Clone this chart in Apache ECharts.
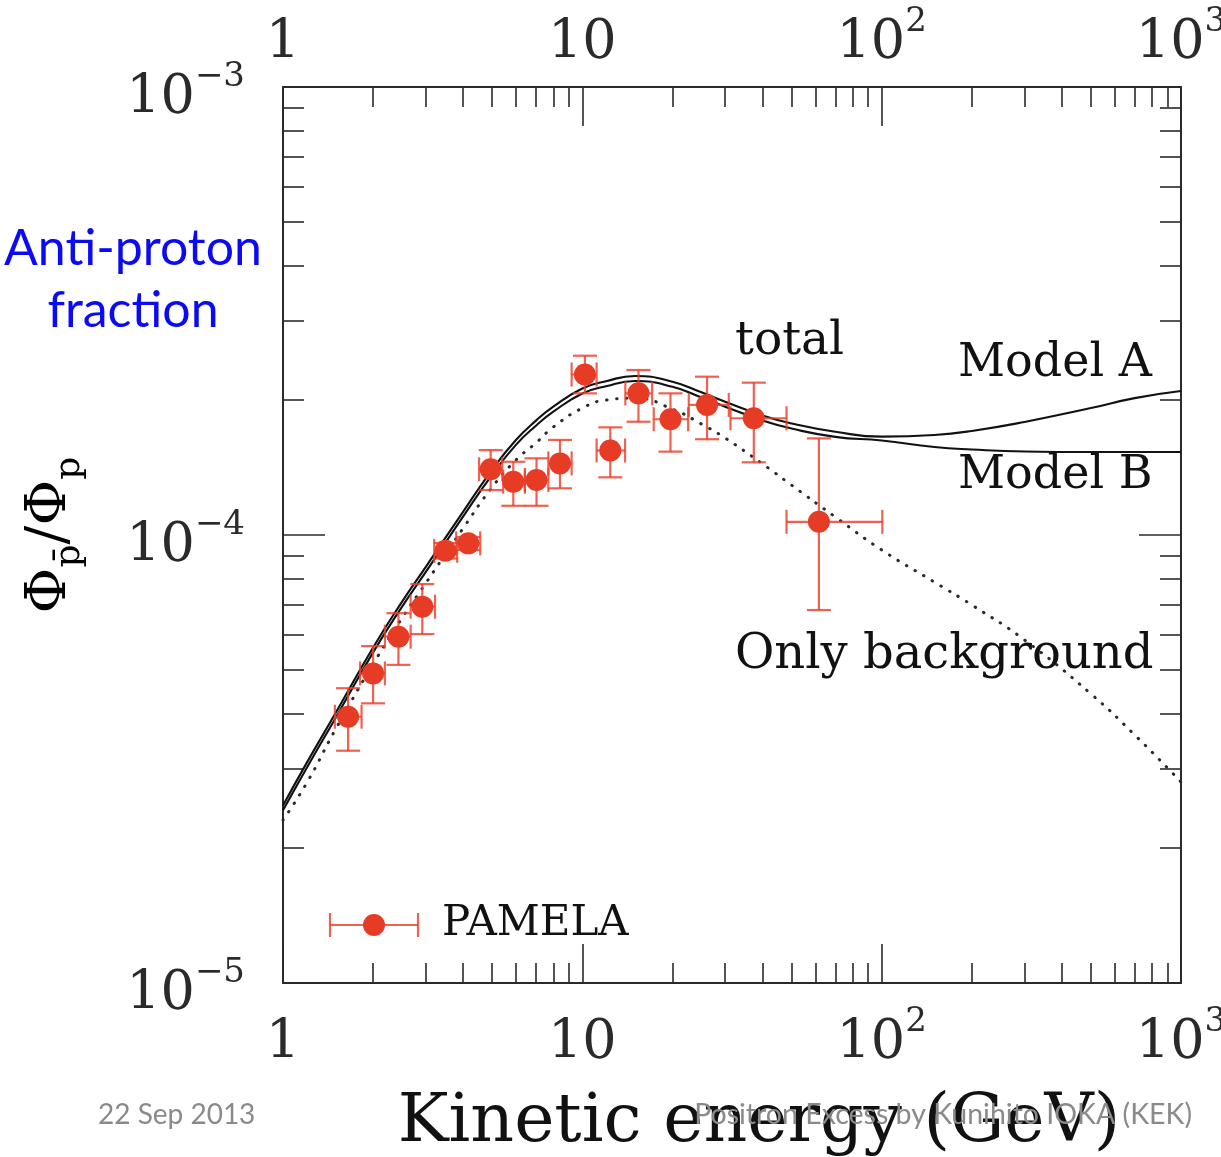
<!DOCTYPE html>
<html><head><meta charset="utf-8">
<script src="https://cdn.jsdelivr.net/npm/echarts@6/dist/echarts.min.js"></script>
<style>html,body{margin:0;padding:0;background:#fff}#c{width:1221px;height:1157px}</style>
</head><body><div id="c"></div>
<script>
// ---- curves (kinetic energy in GeV, antiproton/proton ratio) ----
const energy = [1, 1.2, 1.5, 2, 2.5, 3, 4, 5, 6, 7, 8, 10, 12, 15, 20, 25, 30, 40, 50, 70, 100, 150, 200, 300, 500, 700, 1000];
const modelA = [2.49e-5, 3.10e-5, 4.01e-5, 5.61e-5, 7.10e-5, 8.49e-5, 1.128e-4, 1.400e-4, 1.630e-4, 1.800e-4, 1.935e-4, 2.123e-4, 2.205e-4, 2.264e-4, 2.199e-4, 2.082e-4, 1.984e-4, 1.849e-4, 1.774e-4, 1.700e-4, 1.658e-4, 1.672e-4, 1.707e-4, 1.788e-4, 1.920e-4, 2.021e-4, 2.096e-4];
const modelB = [2.43e-5, 3.02e-5, 3.91e-5, 5.47e-5, 6.92e-5, 8.27e-5, 1.100e-4, 1.364e-4, 1.589e-4, 1.754e-4, 1.885e-4, 2.069e-4, 2.149e-4, 2.206e-4, 2.143e-4, 2.028e-4, 1.934e-4, 1.801e-4, 1.728e-4, 1.656e-4, 1.625e-4, 1.572e-4, 1.552e-4, 1.536e-4, 1.532e-4, 1.532e-4, 1.532e-4];
const background = [2.311e-5, 2.795e-5, 3.69e-5, 5.15e-5, 6.53e-5, 7.81e-5, 1.036e-4, 1.279e-4, 1.470e-4, 1.605e-4, 1.742e-4, 1.920e-4, 2.001e-4, 2.021e-4, 1.910e-4, 1.769e-4, 1.646e-4, 1.441e-4, 1.292e-4, 1.097e-4, 9.26e-5, 7.85e-5, 6.98e-5, 5.83e-5, 4.42e-5, 3.58e-5, 2.81e-5];

// ---- PAMELA data ----
const pamelaE       = [1.65, 2.0, 2.43, 2.92, 3.49, 4.16, 4.94, 5.88, 7.03, 8.42, 10.2, 12.4, 15.4, 19.7, 26.1, 37.4, 61.7];
const pamelaRatio   = [3.93e-5, 4.91e-5, 5.93e-5, 6.92e-5, 9.22e-5, 9.58e-5, 1.402e-4, 1.315e-4, 1.327e-4, 1.445e-4, 2.282e-4, 1.544e-4, 2.071e-4, 1.813e-4, 1.951e-4, 1.822e-4, 1.07e-4];
const pamelaElo     = [1.49, 1.81, 2.19, 2.67, 3.20, 3.79, 4.52, 5.44, 6.43, 7.70, 9.21, 11.16, 13.92, 17.32, 22.68, 31.26, 48.1];
const pamelaEhi     = [1.83, 2.19, 2.67, 3.22, 3.82, 4.56, 5.40, 6.43, 7.70, 9.21, 11.16, 13.89, 17.11, 22.57, 30.85, 48.1, 100.5];
const pamelaRatioLo = [3.30e-5, 4.21e-5, 5.13e-5, 6.01e-5, 8.86e-5, 9.26e-5, 1.26e-4, 1.162e-4, 1.162e-4, 1.271e-4, 2.071e-4, 1.345e-4, 1.79e-4, 1.535e-4, 1.636e-4, 1.453e-4, 6.80e-5];
const pamelaRatioHi = [4.55e-5, 5.65e-5, 6.69e-5, 7.77e-5, 9.60e-5, 9.90e-5, 1.547e-4, 1.457e-4, 1.483e-4, 1.63e-4, 2.513e-4, 1.739e-4, 2.335e-4, 2.071e-4, 2.256e-4, 2.188e-4, 1.643e-4];

// ---- ticks ----
const xMajorTicks = [1, 10, 100, 1000];
const xTickLabels = [['1', ''], ['10', ''], ['10', '2'], ['10', '3']];
const xMinorTicks = [2, 3, 4, 5, 6, 7, 8, 9, 20, 30, 40, 50, 60, 70, 80, 90, 200, 300, 400, 500, 600, 700, 800, 900];
const yMajorTicks = [1e-5, 1e-4, 1e-3];
const yTickLabels = [['10', '\u22125'], ['10', '\u22124'], ['10', '\u22123']];
const yMinorTicks = [2e-5, 3e-5, 4e-5, 5e-5, 6e-5, 7e-5, 8e-5, 9e-5, 2e-4, 3e-4, 4e-4, 5e-4, 6e-4, 7e-4, 8e-4, 9e-4];

const SERIF = '"DejaVu Serif", "Liberation Serif", serif';
const INK = '#2a2a2a';
const TXT = '#111111';
const RED = '#e63b25';
const BAR = 'rgba(236,62,42,0.82)';

function near(a, b) { return Math.abs(Math.log10(a) - Math.log10(b)) < 1e-6; }
function fmt(ticks, labels) {
  return function (v) {
    for (let i = 0; i < ticks.length; i++) {
      if (near(v, ticks[i])) {
        const l = labels[i];
        return '{b|' + l[0] + '}' + (l[1] ? '{s|' + l[1] + '}' : '');
      }
    }
    return '';
  };
}
const labelRich = {
  b: { fontFamily: SERIF, fontSize: 54, color: INK, padding: [12, 0, 0, 0], verticalAlign: 'top', lineHeight: 54 },
  s: { fontFamily: SERIF, fontSize: 34, color: INK, verticalAlign: 'top', lineHeight: 34 }
};

function majorX(pos) {
  return {
    type: 'log', logBase: 10, min: 1, max: 1000, position: pos, gridIndex: 0,
    axisLine: { show: true, lineStyle: { color: INK, width: 2 } },
    axisTick: { show: true, inside: true, length: 39, customValues: xMajorTicks, lineStyle: { color: INK, width: 1.6 } },
    axisLabel: { show: true, customValues: xMajorTicks, formatter: fmt(xMajorTicks, xTickLabels), rich: labelRich, margin: pos === 'bottom' ? 22 : 28 },
    splitLine: { show: false }, minorTick: { show: false }
  };
}
function minorX(pos) {
  return {
    type: 'log', logBase: 10, min: 1, max: 1000, position: pos, gridIndex: 0,
    axisLine: { show: false },
    axisTick: { show: true, inside: true, length: 20, customValues: xMinorTicks, lineStyle: { color: INK, width: 1.6 } },
    axisLabel: { show: false }, splitLine: { show: false }
  };
}
function majorY(pos) {
  return {
    type: 'log', logBase: 10, min: 1e-5, max: 1e-3, position: pos, gridIndex: 0,
    axisLine: { show: true, lineStyle: { color: INK, width: 2 } },
    axisTick: { show: true, inside: true, length: 42, customValues: yMajorTicks, lineStyle: { color: INK, width: 1.6 } },
    axisLabel: { show: pos === 'left', customValues: yMajorTicks, formatter: fmt(yMajorTicks, yTickLabels), rich: labelRich, margin: 38 },
    splitLine: { show: false }
  };
}
function minorY(pos) {
  return {
    type: 'log', logBase: 10, min: 1e-5, max: 1e-3, position: pos, gridIndex: 0,
    axisLine: { show: false },
    axisTick: { show: true, inside: true, length: 21, customValues: yMinorTicks, lineStyle: { color: INK, width: 1.6 } },
    axisLabel: { show: false }, splitLine: { show: false }
  };
}

const pamelaData = pamelaE.map((e, i) => [e, pamelaRatio[i], pamelaElo[i], pamelaEhi[i], pamelaRatioLo[i], pamelaRatioHi[i]]);

const chart = echarts.init(document.getElementById('c'), null, { renderer: 'canvas' });
chart.setOption({
  animation: false,
  backgroundColor: '#ffffff',
  grid: { left: 283, top: 87, width: 898, height: 896, containLabel: false, outerBoundsMode: 'none' },
  xAxis: [majorX('bottom'), minorX('bottom'), majorX('top'), minorX('top')],
  yAxis: [majorY('left'), minorY('left'), majorY('right'), minorY('right')],
  series: [
    { name: 'Model A', type: 'line', xAxisIndex: 0, yAxisIndex: 0, data: energy.map((e, i) => [e, modelA[i]]),
      showSymbol: false, smooth: 0.5, lineStyle: { color: '#111', width: 2.1 }, z: 3 },
    { name: 'Model B', type: 'line', xAxisIndex: 0, yAxisIndex: 0, data: energy.map((e, i) => [e, modelB[i]]),
      showSymbol: false, smooth: 0.5, lineStyle: { color: '#111', width: 2.1 }, z: 3 },
    { name: 'Only background', type: 'line', xAxisIndex: 0, yAxisIndex: 0, data: energy.map((e, i) => [e, background[i]]),
      showSymbol: false, smooth: 0.5, lineStyle: { color: '#2a2a2a', width: 3, type: [0.5, 9.5], cap: 'round' }, z: 2 },
    { name: 'PAMELA err', type: 'custom', xAxisIndex: 0, yAxisIndex: 0, data: pamelaData, encode: { x: 0, y: 1 }, z: 4,
      renderItem: function (params, api) {
        const e = api.value(0), v = api.value(1), el = api.value(2), eh = api.value(3), vl = api.value(4), vh = api.value(5);
        const l = api.coord([el, v]), r = api.coord([eh, v]), t = api.coord([e, vh]), b = api.coord([e, vl]);
        const cap = 12;
        const st = { stroke: BAR, lineWidth: 2.2 };
        return { type: 'group', children: [
          { type: 'line', shape: { x1: l[0], y1: l[1], x2: r[0], y2: r[1] }, style: st },
          { type: 'line', shape: { x1: t[0], y1: t[1], x2: b[0], y2: b[1] }, style: st },
          { type: 'line', shape: { x1: l[0], y1: l[1] - cap, x2: l[0], y2: l[1] + cap }, style: st },
          { type: 'line', shape: { x1: r[0], y1: r[1] - cap, x2: r[0], y2: r[1] + cap }, style: st },
          { type: 'line', shape: { x1: t[0] - cap, y1: t[1], x2: t[0] + cap, y2: t[1] }, style: st },
          { type: 'line', shape: { x1: b[0] - cap, y1: b[1], x2: b[0] + cap, y2: b[1] }, style: st }
        ] };
      } },
    { name: 'PAMELA', type: 'scatter', xAxisIndex: 0, yAxisIndex: 0, data: pamelaE.map((e, i) => [e, pamelaRatio[i]]),
      symbol: 'circle', symbolSize: 22, itemStyle: { color: RED, opacity: 1 }, z: 5 }
  ],
  graphic: [
    // legend
    { type: 'line', shape: { x1: 330, y1: 925, x2: 418, y2: 925 }, style: { stroke: BAR, lineWidth: 2.2 }, z: 10 },
    { type: 'line', shape: { x1: 330, y1: 913, x2: 330, y2: 937 }, style: { stroke: BAR, lineWidth: 2.2 }, z: 10 },
    { type: 'line', shape: { x1: 418, y1: 913, x2: 418, y2: 937 }, style: { stroke: BAR, lineWidth: 2.2 }, z: 10 },
    { type: 'circle', shape: { cx: 374, cy: 925, r: 11 }, style: { fill: RED }, z: 11 },
    { type: 'text', x: 442, y: 924, style: { text: 'PAMELA', font: '42px ' + SERIF, fill: TXT, verticalAlign: 'middle', align: 'left' }, z: 10 },
    // curve annotations
    { type: 'text', x: 735, y: 342, style: { text: 'total', font: '47px ' + SERIF, fill: TXT, verticalAlign: 'middle' }, z: 10 },
    { type: 'text', x: 958, y: 364, style: { text: 'Model A', font: '46px ' + SERIF, fill: TXT, verticalAlign: 'middle' }, z: 10 },
    { type: 'text', x: 958, y: 476, style: { text: 'Model B', font: '46px ' + SERIF, fill: TXT, verticalAlign: 'middle' }, z: 10 },
    { type: 'text', x: 735, y: 656, style: { text: 'Only background', font: '48px ' + SERIF, fill: TXT, verticalAlign: 'middle' }, z: 1 },
    // axis titles
    { type: 'text', x: 759, y: 1123, style: { text: 'Kinetic energy (GeV)', font: '68px ' + SERIF, fill: TXT, align: 'center', verticalAlign: 'middle' }, z: 10 },
    { type: 'text', x: 50, y: 535, rotation: Math.PI / 2,
      style: { text: '{a|\u03A6}{s|p\u0304}{a|/\u03A6}{s|p}', align: 'center', verticalAlign: 'middle',
        rich: {
          a: { fontFamily: SERIF, fontSize: 56, color: TXT, verticalAlign: 'top', lineHeight: 56 },
          s: { fontFamily: SERIF, fontSize: 36, color: TXT, verticalAlign: 'top', lineHeight: 36, padding: [30, 0, 0, 0] }
        } }, z: 10 },
    // slide annotations
    { type: 'text', x: 133, y: 249, style: { text: 'Anti-proton', font: '50px Lato, "Noto Sans", sans-serif', fill: '#0a0af5', align: 'center', verticalAlign: 'middle' }, z: 10 },
    { type: 'text', x: 133, y: 311, style: { text: 'fraction', font: '50px Lato, "Noto Sans", sans-serif', fill: '#0a0af5', align: 'center', verticalAlign: 'middle' }, z: 10 },
    { type: 'text', x: 98, y: 1115, style: { text: '22 Sep 2013', font: '28px Lato, "Noto Sans", sans-serif', fill: '#8a8a8a', align: 'left', verticalAlign: 'middle' }, z: 12 },
    { type: 'text', x: 1192, y: 1115, style: { text: 'Positron Excess by Kunihito IOKA (KEK)', font: '28.5px Lato, "Noto Sans", sans-serif', fill: '#8a8a8a', align: 'right', verticalAlign: 'middle' }, z: 12 }
  ]
});
</script>
</body></html>
